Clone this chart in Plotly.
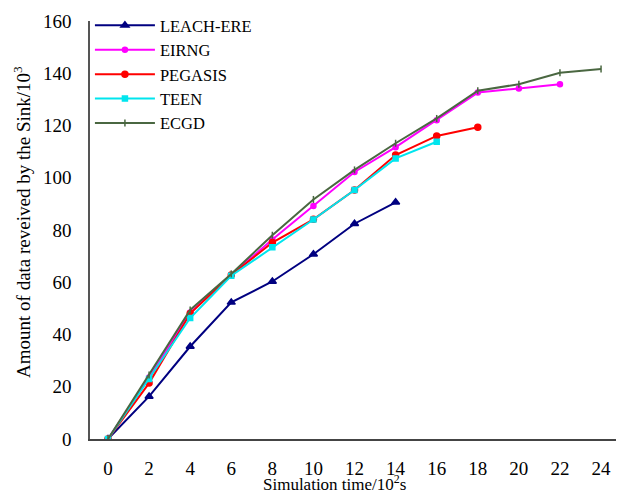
import plotly.graph_objects as go

x_leach = [0, 2, 4, 6, 8, 10, 12, 14]
y_leach = [0, 16.3, 35.4, 52.3, 60.3, 70.7, 82.4, 90.6]

x_eirng = [0, 2, 4, 6, 8, 10, 12, 14, 16, 18, 20, 22]
y_eirng = [0, 23.5, 48.4, 62.8, 76.4, 89.2, 102.2, 111.7, 122.0, 132.6, 134.2, 135.8]

x_pegasis = [0, 2, 4, 6, 8, 10, 12, 14, 16, 18]
y_pegasis = [0, 21.4, 48.0, 62.8, 75.2, 84.1, 95.3, 108.7, 116.0, 119.3]

x_teen = [0, 2, 4, 6, 8, 10, 12, 14, 16]
y_teen = [0, 23.0, 46.3, 62.5, 73.4, 84.0, 95.3, 107.4, 113.8]

x_ecgd = [0, 2, 4, 6, 8, 10, 12, 14, 16, 18, 20, 22, 24]
y_ecgd = [0, 24.5, 49.4, 63.2, 78.0, 91.7, 103.0, 113.2, 122.7, 133.3, 135.8, 140.2, 141.6]

x_ticks = [0, 2, 4, 6, 8, 10, 12, 14, 16, 18, 20, 22, 24]
y_ticks = [0, 20, 40, 60, 80, 100, 120, 140, 160]

x_title = "Simulation time/10<sup>2</sup>s"
y_title = "Amount of data reveived by the Sink/10<sup>3</sup>"

FONT = "Liberation Serif"

series = [
    ("LEACH-ERE", x_leach, y_leach, "#000080", "triangle-up", 7),
    ("EIRNG", x_eirng, y_eirng, "#ff00ff", "circle", 5),
    ("PEGASIS", x_pegasis, y_pegasis, "#ff0000", "circle", 6),
    ("TEEN", x_teen, y_teen, "#00e5ee", "square", 5),
    ("ECGD", x_ecgd, y_ecgd, "#4a6741", "line-ns", 5),
]

fig = go.Figure()
for name, xs, ys, col, sym, sz in series:
    fig.add_trace(go.Scatter(
        x=xs, y=ys, name=name, mode="lines+markers",
        line=dict(color=col, width=2),
        marker=dict(symbol=sym, size=sz, color=col, line=dict(color=col, width=1.5)),
    ))

# page body has an 8px default margin, so the figure is sized to fit the window
fig.update_layout(
    width=616, height=483,
    margin=dict(l=82, r=2, t=13, b=52, autoexpand=False),
    paper_bgcolor="white", plot_bgcolor="white",
    font=dict(family=FONT, size=16, color="black"),
    showlegend=True,
    legend=dict(
        xref="container", yref="container",
        x=0.133, y=1.0, xanchor="left", yanchor="top",
        bgcolor="rgba(255,255,255,0)", borderwidth=0,
        font=dict(family=FONT, size=16.5, color="black"),
        itemwidth=60, tracegroupgap=0,
    ),
    annotations=[
        dict(text=y_title, xref="paper", yref="paper", x=-0.128, y=0.519,
             xanchor="center", yanchor="middle", textangle=-90, showarrow=False,
             font=dict(family=FONT, size=19, color="black")),
        dict(text=x_title, xref="paper", yref="paper", x=0.46, y=-0.106,
             xanchor="center", yanchor="middle", showarrow=False,
             font=dict(family=FONT, size=17, color="black")),
    ],
)

fig.update_xaxes(
    range=[-0.876, 25.02], tickvals=x_ticks, ticktext=[str(v) for v in x_ticks],
    showgrid=False, zeroline=False, showline=True, linecolor="#444", linewidth=2,
    ticks="", ticklabelstandoff=11, automargin=False,
    tickfont=dict(family=FONT, size=19),
)
fig.update_yaxes(
    range=[0, 160], tickvals=y_ticks, ticktext=[str(v) for v in y_ticks],
    showgrid=False, zeroline=False, showline=True, linecolor="#555", linewidth=1.5,
    ticks="", ticklabelstandoff=13, automargin=False,
    tickfont=dict(family=FONT, size=19),
)

fig.write_html("out.html")
